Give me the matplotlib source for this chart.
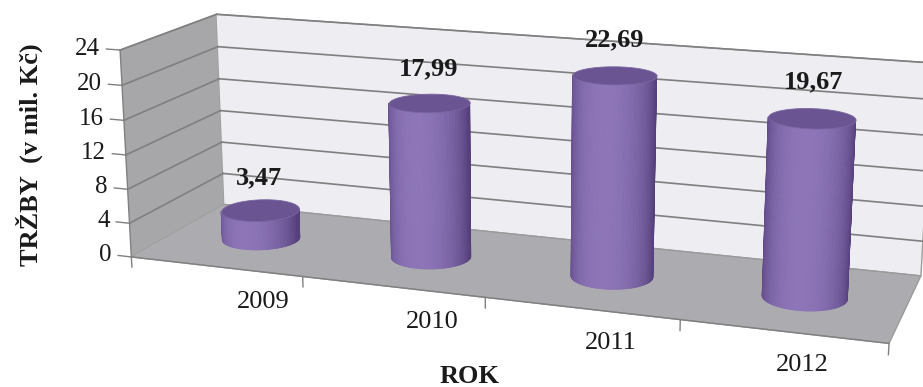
import numpy as np
import matplotlib
matplotlib.use("Agg")
import matplotlib.pyplot as plt
from matplotlib.colors import to_rgb
from mpl_toolkits.mplot3d import proj3d
from mpl_toolkits.mplot3d.art3d import Poly3DCollection

# Revenue per year (millions CZK)
years = ["2009", "2010", "2011", "2012"]
revenue = [3.47, 17.99, 22.69, 19.67]
value_ticks = [0, 4, 8, 12, 16, 20, 24]
y_title = "TRŽBY  (v mil. Kč)"
x_title = "ROK"

plt.rcParams["font.family"] = ["Liberation Serif", "DejaVu Serif"]

ELEV, AZIM = 15, -70.8
BOX = (758, 200, 212)
ZOOM = 0.8995
W, H = 923, 387
SIDE = 898          # pixel size of the square 3D drawing area
CX, CY = 508, 175   # its centre, pixels from top-left

fig = plt.figure(figsize=(W / 100, H / 100), dpi=100)
ax = fig.add_axes([(CX - SIDE / 2) / W, (H - CY - SIDE / 2) / H, SIDE / W, SIDE / H],
                  projection="3d", proj_type="persp", focal_length=0.4)
ax.view_init(elev=ELEV, azim=AZIM)
ax.set_box_aspect(BOX, zoom=ZOOM)
ax.computed_zorder = False

n = len(years)
x0, x1 = -0.5, n - 0.5
y0, y1 = 0.0, 1.0
z0, z1 = value_ticks[0], value_ticks[-1]
ax.set_xlim(x0, x1)
ax.set_ylim(y0, y1)
ax.set_zlim(z0, z1)

# walls and floor
ax.xaxis.set_pane_color(to_rgb("#a7a7a9") + (1.0,))
ax.yaxis.set_pane_color(to_rgb("#ededf2") + (1.0,))
ax.zaxis.set_pane_color(to_rgb("#acabaf") + (1.0,))
for a in (ax.xaxis, ax.yaxis, ax.zaxis):
    a.pane.set_edgecolor("#9a9a9a")
    a.line.set_color((0, 0, 0, 0))
    a.set_ticks([])
ax.grid(False)

# value gridlines on back and side walls
for t in value_ticks[1:]:
    ax.plot([x0, x1], [y1, y1], [t, t], color="#7f7f7f", lw=1.2, zorder=1)
    ax.plot([x0, x0], [y0, y1], [t, t], color="#7f7f7f", lw=1.2, zorder=1)

# value axis with ticks
ax.plot([x0, x0], [y0, y0], [z0, z1], color="#808080", lw=1.0, zorder=1)
for t in value_ticks:
    ax.plot([x0 - 0.08, x0], [y0, y0], [t, t], color="#808080", lw=1.0, zorder=1)

# category axis with ticks between categories
ax.plot([x0, x1], [y0, y0], [z0, z0], color="#808080", lw=1.0, zorder=1)
for k in range(n + 1):
    ax.plot([x0 + k, x0 + k], [y0, y0], [z0, z0 - 1.2], color="#808080", lw=1.0, zorder=1)

fig.canvas.draw()
M = ax.get_proj()


def signed_area(xs, ys, zs):
    px, py, _ = proj3d.proj_transform(np.asarray(xs), np.asarray(ys), np.asarray(zs), M)
    return 0.5 * np.sum(px * np.roll(py, -1) - np.roll(px, -1) * py)


# cylinders: only the side strips that face the camera are drawn
rx = 0.21
ry = rx * (BOX[0] / n) / BOX[1]
theta = np.linspace(0, 2 * np.pi, 145)
tmid = 0.5 * (theta[:-1] + theta[1:])
dark = np.array(to_rgb("#55407c"))
light = np.array(to_rgb("#8d75b8"))
top_col = to_rgb("#6a5492")
cam = np.deg2rad(AZIM - 15)
shade = np.clip(np.cos(tmid - cam), 0, 1) ** 1.1
strip_rgb = dark[None, :] * (1 - shade[:, None]) + light[None, :] * shade[:, None]
facing = np.argmin(np.abs(np.angle(np.exp(1j * (tmid - np.deg2rad(AZIM))))))

for i, v in enumerate(revenue):
    cx_ = i + rx * np.cos(theta)
    cy_ = 0.5 + ry * np.sin(theta)
    quads = []
    for k in range(tmid.size):
        quads.append(([cx_[k], cx_[k + 1], cx_[k + 1], cx_[k]],
                      [cy_[k], cy_[k + 1], cy_[k + 1], cy_[k]],
                      [0.0, 0.0, v, v]))
    ref_sign = np.sign(signed_area(*quads[facing]))
    verts, cols = [], []
    for k, q in enumerate(quads):
        if np.sign(signed_area(*q)) == ref_sign:
            verts.append(list(zip(*q)))
            cols.append(strip_rgb[k])
    side = Poly3DCollection(verts, facecolors=cols, edgecolors=cols, linewidths=0.6)
    side.set_zorder(3)
    ax.add_collection3d(side)
    cap = list(zip(cx_, cy_, np.full_like(theta, v)))
    pc = Poly3DCollection([cap], facecolor=top_col, edgecolor="#7a66a0", linewidth=0.6)
    pc.set_zorder(4)
    ax.add_collection3d(pc)


# texts are anchored at projected 3D points
def label3d(x, y, z, s, **kw):
    px, py, _ = proj3d.proj_transform(x, y, z, M)
    ax.text2D(px, py, s, transform=ax.transData, color="#1a1a1a", zorder=6, **kw)


for t in value_ticks:
    label3d(x0 - 0.12, y0, t, str(t), ha="right", va="center", fontsize=18)
for i, lab in enumerate(years):
    label3d(i, 0.5, z0 - 6.5, lab, ha="center", va="top", fontsize=19)
for i, v in enumerate(revenue):
    label3d(i, 0.5, v + 3.9, f"{v:.2f}".replace(".", ","), ha="center", va="center",
            fontsize=19, fontweight="bold")

fig.text(0.032, 0.60, y_title, rotation=90, ha="center", va="center",
         fontsize=19, fontweight="bold", color="#1a1a1a")
fig.text(0.509, 0.026, x_title, ha="center", va="center",
         fontsize=19, fontweight="bold", color="#1a1a1a")

fig.savefig("out.png", dpi=100)
